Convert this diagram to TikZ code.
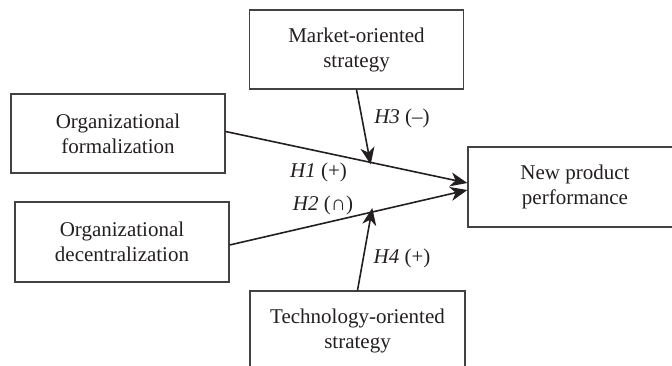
\documentclass[tikz,border=0pt]{standalone}
\usepackage{fontspec}
\setmainfont{Liberation Serif}
\usetikzlibrary{arrows.meta,calc}
\definecolor{ink}{HTML}{231F20}
\begin{document}
\begin{tikzpicture}[x=1pt,y=-1pt,
  box/.style={draw=ink!85,line width=1.2pt,minimum width=214pt,minimum height=79pt,
    inner sep=0pt,align=center,text=ink,font=\fontsize{21}{25}\selectfont},
  link/.style={draw=ink,line width=1.6pt,-{Stealth[length=17pt,width=14pt,inset=5pt]}},
  hyp/.style={anchor=base,text=ink,inner sep=0pt,font=\fontsize{21}{25}\selectfont}]
  \useasboundingbox (0,0) rectangle (672,365);
  \clip (0,0) rectangle (672,365);

  % constructs
  \node[box] (mk) at (356.5,49.5) {Market-oriented\\strategy};
  \node[box] (fo) at (118,133.5) {Organizational\\formalization};
  \node[box,minimum height=80pt] (de) at (122,242) {Organizational\\decentralization};
  \node[box,minimum height=80pt] (np) at (575,187) {New product\\performance};
  \node[box,minimum width=215pt,minimum height=80pt] (te) at (357.5,331) {Technology-oriented\\strategy};

  % main effects
  \coordinate (foOut) at ([yshift=2pt]fo.east);
  \coordinate (deOut) at ([yshift=-3pt]de.east);
  \coordinate (npA) at ([yshift=4pt]np.west);
  \coordinate (npB) at ([yshift=-3pt]np.west);
  \draw[link] (foOut) -- (npA);
  \draw[link] (deOut) -- (npB);

  % moderating effects
  \coordinate (m1) at ($($(foOut)!0.6!(npA)$)+(0,2)$);
  \coordinate (m2) at ($($(deOut)!0.6!(npB)$)+(0,-4)$);
  \draw[link] (mk.south) -- (m1);
  \draw[link] (te.north) -- (m2);

  % hypothesis labels
  \node[hyp] (h3) at (402,123) {\textit{H3} (–)};
  \node[hyp] (h1) at (318.5,177) {\textit{H1} (+)};
  \node[hyp] (h2) at (323,210) {\textit{H2} (∩)};
  \node[hyp] (h4) at (402,263) {\textit{H4} (+)};
\end{tikzpicture}
\end{document}
